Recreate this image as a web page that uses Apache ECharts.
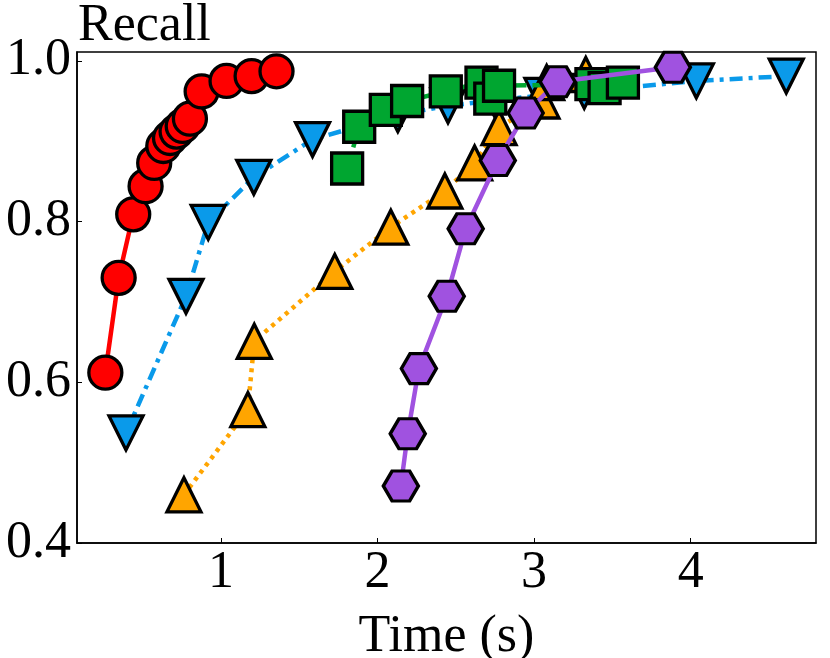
<!DOCTYPE html>
<html>
<head>
<meta charset="utf-8">
<script src="https://cdn.jsdelivr.net/npm/echarts@6/dist/echarts.min.js"></script>
<style>
  html, body { margin: 0; padding: 0; background: #fff; }
  #chart { width: 830px; height: 658px; }
</style>
</head>
<body>
<div id="chart"></div>
<script>
// tick labels
const xTicks = [1, 2, 3, 4];
const yTicks = [0.4, 0.6, 0.8, 1.0];

// [time, recall] per method
const redPts = [[0.262, 0.612], [0.347, 0.730], [0.440, 0.809], [0.519, 0.844], [0.574, 0.873],
  [0.632, 0.894], [0.675, 0.904], [0.717, 0.912], [0.756, 0.919], [0.802, 0.928],
  [0.877, 0.962], [1.036, 0.975], [1.196, 0.981], [1.355, 0.987]];
const bluePts = [[0.394, 0.537], [0.777, 0.707], [0.919, 0.799], [1.21, 0.855], [1.585, 0.902],
  [2.13, 0.933], [2.45, 0.944], [2.75, 0.951], [3.05, 0.957], [3.32, 0.962],
  [4.036, 0.975], [4.61, 0.981]];
const orangePts = [[0.764, 0.460], [1.172, 0.566], [1.213, 0.651], [1.727, 0.738], [2.085, 0.793],
  [2.43, 0.838], [2.62, 0.873], [2.776, 0.917], [3.05, 0.950], [3.08, 0.973], [3.33, 0.983]];
const greenPts = [[1.806, 0.866], [1.883, 0.918], [2.053, 0.939], [2.189, 0.950], [2.436, 0.962],
  [2.664, 0.973], [2.72, 0.953], [2.776, 0.969], [3.366, 0.971], [3.45, 0.966], [3.567, 0.973]];
const purplePts = [[2.149, 0.471], [2.193, 0.536], [2.264, 0.617], [2.442, 0.707], [2.563, 0.791],
  [2.768, 0.876], [2.946, 0.935], [3.15, 0.974], [3.886, 0.992]];

const FONT = '"Liberation Serif", "DejaVu Serif", serif';
const hexagon = 'path://M0,5 L2.5,0.67 L7.5,0.67 L10,5 L7.5,9.33 L2.5,9.33 Z';

const chart = echarts.init(document.getElementById('chart'));

function mkSeries(data, color, symbol, size, lineType, z, rotate) {
  return {
    type: 'line',
    data: data,
    z: z,
    symbol: symbol,
    symbolSize: size,
    symbolRotate: rotate || 0,
    showAllSymbol: true,
    animation: false,
    itemStyle: { color: color, borderColor: '#000', borderWidth: 3.3, opacity: 1 },
    lineStyle: { color: color, width: 4.5, type: lineType, cap: 'butt' }
  };
}

chart.setOption({
  backgroundColor: '#fff',
  animation: false,
  grid: {
    left: 77, right: 14, top: 52, bottom: 115,
    outerBoundsMode: 'none',
    containLabel: false,
    show: true, borderColor: '#000', borderWidth: 1.5, backgroundColor: 'transparent'
  },
  xAxis: {
    type: 'value',
    min: 0.081, max: 4.80,
    name: 'Time (s)',
    nameLocation: 'middle',
    nameGap: 68,
    nameTextStyle: { fontFamily: FONT, fontSize: 52, color: '#000' },
    axisLine: { show: true, onZero: false, lineStyle: { color: '#000', width: 1.5 } },
    axisTick: { show: true, inside: true, length: 5, customValues: xTicks, lineStyle: { color: '#000', width: 1 } },
    axisLabel: { customValues: xTicks, fontFamily: FONT, fontSize: 52, color: '#000', margin: 4 },
    splitLine: { show: false }
  },
  yAxis: {
    type: 'value',
    min: 0.4, max: 1.011,
    axisLine: { show: true, onZero: false, lineStyle: { color: '#000', width: 1.5 } },
    axisTick: { show: true, inside: true, length: 5, customValues: yTicks, lineStyle: { color: '#000', width: 1 } },
    axisLabel: {
      customValues: yTicks, fontFamily: FONT, fontSize: 52, color: '#000', margin: 6,
      formatter: v => v.toFixed(1)
    },
    splitLine: { show: false }
  },
  graphic: [{
    type: 'text', left: 78, top: 0,
    style: { text: 'Recall', font: '52px ' + FONT, fill: '#000' }
  }],
  series: [
    mkSeries(redPts, '#ff0000', 'circle', 33, 'solid', 2),
    mkSeries(bluePts, '#0a9aea', 'triangle', 34, [13, 6, 4, 6], 3, 180),
    mkSeries(orangePts, '#ffa500', 'triangle', 34, [4, 5], 4),
    mkSeries(greenPts, '#00a630', 'rect', 31, [16, 6], 5),
    mkSeries(purplePts, '#a052e0', hexagon, [35, 30], 'solid', 6)
  ]
});
</script>
</body>
</html>
